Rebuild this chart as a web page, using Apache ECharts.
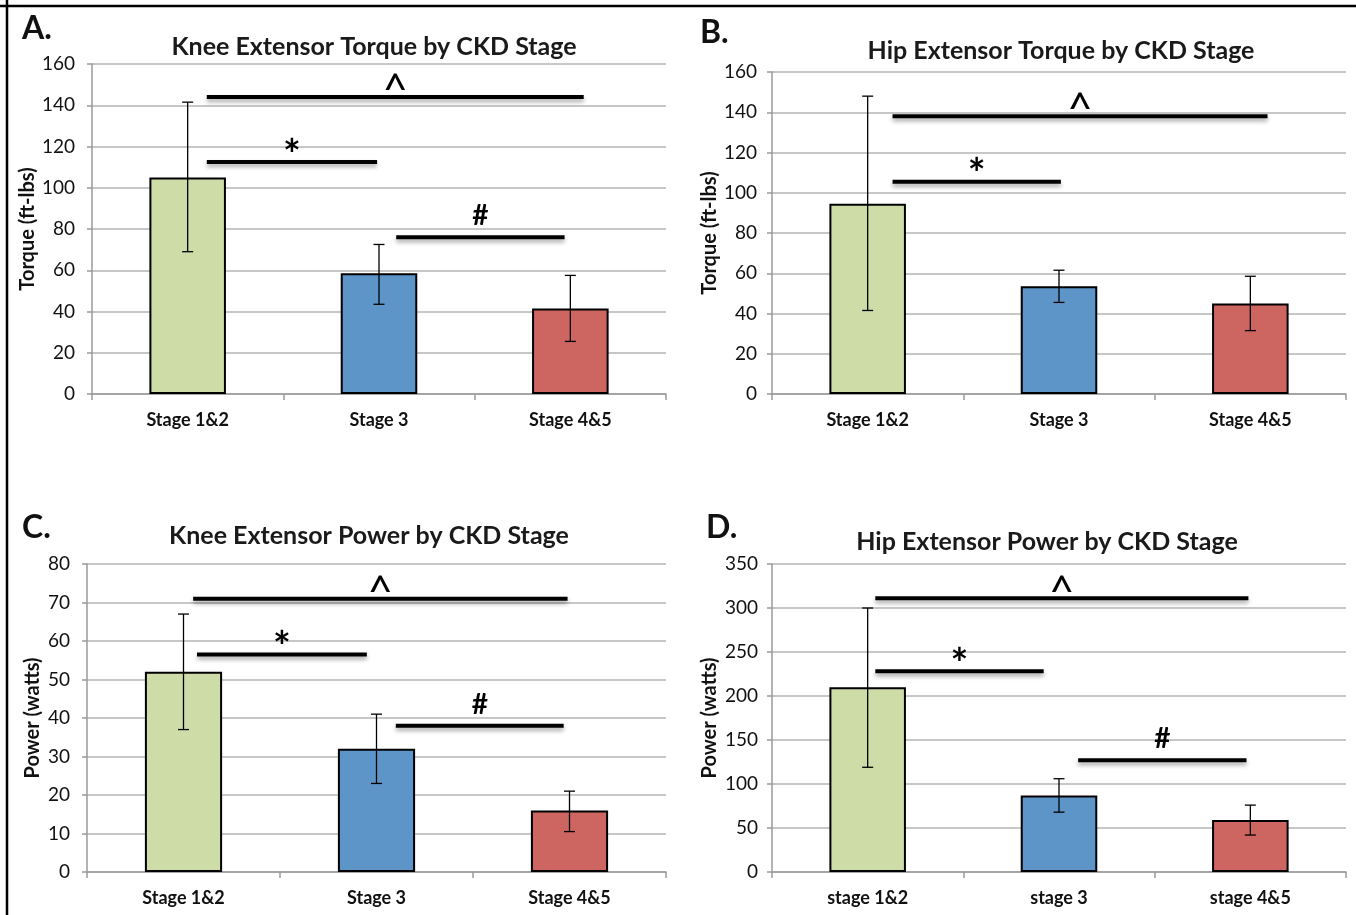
<!DOCTYPE html>
<html>
<head>
<meta charset="utf-8">
<script src="https://cdn.jsdelivr.net/npm/echarts@6/dist/echarts.min.js"></script>
<style>
  html, body { margin: 0; padding: 0; background: #fff; }
  #chart { width: 1356px; height: 915px; }
</style>
</head>
<body>
<div id="chart"></div>
<script>
// categories
const stages = ["Stage 1&2", "Stage 3", "Stage 4&5"];
const stagesLower = ["stage 1&2", "stage 3", "stage 4&5"];
const barColors = ["#cedca8", "#5e95c9", "#cd6561"];

// A. knee extensor torque (ft-lbs)
const kneeTorque = [105, 58.5, 41.5];
const kneeTorqueLow = [69, 43.5, 25.5];
const kneeTorqueHigh = [141.5, 72.5, 57.5];
// [from, to, y, symbol] in category units
const kneeTorqueSig = [[0.10, 2.07, 144, "^"], [0.10, 0.99, 112.5, "*"], [1.09, 1.97, 76, "#"]];

// B. hip extensor torque (ft-lbs)
const hipTorque = [94.5, 53.5, 45];
const hipTorqueLow = [41.5, 45.5, 31.5];
const hipTorqueHigh = [148, 61.5, 58.5];
const hipTorqueSig = [[0.13, 2.09, 138, "^"], [0.13, 1.01, 105.5, "*"]];

// C. knee extensor power (watts)
const kneePower = [52, 32, 16];
const kneePowerLow = [37, 23, 10.5];
const kneePowerHigh = [67, 41, 21];
const kneePowerSig = [[0.05, 1.99, 71, "^"], [0.07, 0.95, 56.5, "*"], [1.10, 1.97, 38, "#"]];

// D. hip extensor power (watts)
const hipPower = [210, 87, 59];
const hipPowerLow = [119, 68, 42];
const hipPowerHigh = [300, 106, 76];
const hipPowerSig = [[0.04, 1.99, 311, "^"], [0.04, 0.92, 228, "*"], [1.10, 1.98, 127, "#"]];

const FONT = 'Lato, "Open Sans", sans-serif';

const panels = [
  { letter: "A.", title: "Knee Extensor Torque by CKD Stage", yName: "Torque (ft-lbs)", cats: stages,
    vals: kneeTorque, low: kneeTorqueLow, high: kneeTorqueHigh, sig: kneeTorqueSig, max: 160, step: 20,
    grid: { left: 92, width: 574, top: 64, height: 330 }, nameGap: 54, labelGap: 17,
    titlePos: [369, 42], letterPos: [17, 24] },
  { letter: "B.", title: "Hip Extensor Torque by CKD Stage", yName: "Torque (ft-lbs)", cats: stages,
    vals: hipTorque, low: hipTorqueLow, high: hipTorqueHigh, sig: hipTorqueSig, max: 160, step: 20,
    grid: { left: 772, width: 574, top: 72, height: 322 }, nameGap: 52, labelGap: 15,
    titlePos: [1056, 46], letterPos: [695, 28] },
  { letter: "C.", title: "Knee Extensor Power by CKD Stage", yName: "Power (watts)", cats: stages,
    vals: kneePower, low: kneePowerLow, high: kneePowerHigh, sig: kneePowerSig, max: 80, step: 10,
    grid: { left: 87, width: 579, top: 564, height: 308 }, nameGap: 44, labelGap: 17,
    titlePos: [364, 531], letterPos: [17, 523] },
  { letter: "D.", title: "Hip Extensor Power by CKD Stage", yName: "Power (watts)", cats: stagesLower,
    vals: hipPower, low: hipPowerLow, high: hipPowerHigh, sig: hipPowerSig, max: 350, step: 50,
    grid: { left: 772, width: 574, top: 564, height: 308 }, nameGap: 52, labelGap: 14,
    titlePos: [1042, 537], letterPos: [701, 523] },
];

const chart = echarts.init(document.getElementById("chart"));

const grid = [], xAxis = [], yAxis = [], series = [], title = [];

panels.forEach((p, i) => {
  grid.push(p.grid);
  xAxis.push({
    gridIndex: i, type: "category", data: p.cats,
    axisLine: { lineStyle: { color: "#9a9a9a", width: 1.5 } },
    axisTick: { show: true, length: 6, lineStyle: { color: "#9a9a9a", width: 1.5 } },
    axisLabel: { color: "#111", fontFamily: FONT, fontWeight: "bold", fontSize: 18, margin: 17 },
  });
  // hidden value axis for the significance bars
  xAxis.push({ gridIndex: i, type: "value", min: -0.5, max: 2.5, show: false });
  yAxis.push({
    gridIndex: i, type: "value", min: 0, max: p.max, interval: p.step,
    name: p.yName, nameLocation: "middle", nameGap: p.nameGap, nameRotate: 90,
    nameTextStyle: { color: "#111", fontFamily: FONT, fontWeight: "bold", fontSize: 20 },
    axisLine: { show: true, onZero: false, lineStyle: { color: "#9a9a9a", width: 1.5 } },
    axisTick: { show: true, length: 5, lineStyle: { color: "#9a9a9a", width: 1.5 } },
    splitLine: { lineStyle: { color: "#b5b5b5", width: 1.5 } },
    axisLabel: { color: "#111", fontFamily: FONT, fontSize: 19, margin: p.labelGap },
  });

  series.push({
    type: "bar", xAxisIndex: 2 * i, yAxisIndex: i, barWidth: "40%",
    data: p.vals.map((v, k) => ({ value: v, itemStyle: { color: barColors[k] } })),
    itemStyle: { borderColor: "#000", borderWidth: 2 },
    z: 2,
  });

  series.push({
    type: "custom", xAxisIndex: 2 * i, yAxisIndex: i, z: 3,
    data: p.vals.map((v, k) => [k, p.low[k], p.high[k]]),
    encode: { x: 0, y: [1, 2] },
    renderItem: (params, api) => {
      const x = api.value(0);
      const lo = api.coord([x, api.value(1)]);
      const hi = api.coord([x, api.value(2)]);
      const cap = 5.5;
      const st = { stroke: "#000", lineWidth: 1.3 };
      return {
        type: "group",
        children: [
          { type: "line", shape: { x1: lo[0], y1: lo[1], x2: hi[0], y2: hi[1] }, style: st },
          { type: "line", shape: { x1: lo[0] - cap, y1: lo[1], x2: lo[0] + cap, y2: lo[1] }, style: st },
          { type: "line", shape: { x1: hi[0] - cap, y1: hi[1], x2: hi[0] + cap, y2: hi[1] }, style: st },
        ],
      };
    },
  });

  // significance bar styles per symbol: font size, weight, vertical offset from the line
  const symStyle = {
    "^": { size: 44, weight: "normal", dy: 17, va: "bottom" },
    "*": { size: 42, weight: "bold", dy: -27, va: "top" },
    "#": { size: 28, weight: "bold", dy: -7, va: "bottom" },
  };

  series.push({
    type: "custom", xAxisIndex: 2 * i + 1, yAxisIndex: i, z: 4,
    data: p.sig.map((s) => [s[0], s[1], s[2]]),
    encode: { x: [0, 1], y: 2 },
    renderItem: (params, api) => {
      const a = api.coord([api.value(0), api.value(2)]);
      const b = api.coord([api.value(1), api.value(2)]);
      const sym = p.sig[params.dataIndex][3];
      const s = symStyle[sym];
      return {
        type: "group",
        children: [
          {
            type: "line", shape: { x1: a[0], y1: a[1], x2: b[0], y2: b[1] },
            style: { stroke: "#000", lineWidth: 4, shadowBlur: 4, shadowOffsetY: 3, shadowColor: "rgba(0,0,0,0.35)" },
          },
          {
            type: "text", x: (a[0] + b[0]) / 2, y: a[1] + s.dy,
            style: {
              text: sym, fill: "#000", align: "center", verticalAlign: s.va,
              fontFamily: FONT, fontSize: s.size, fontWeight: s.weight,
            },
          },
        ],
      };
    },
  });

  title.push({
    text: p.title, left: p.titlePos[0], top: p.titlePos[1], textAlign: "center", textVerticalAlign: "middle",
    textStyle: { color: "#1a1a1a", fontFamily: FONT, fontWeight: "bold", fontSize: 25 },
  });
  title.push({
    text: p.letter, left: p.letterPos[0], top: p.letterPos[1] - 16,
    textStyle: { color: "#111", fontFamily: FONT, fontWeight: "bold", fontSize: 32 },
  });
});

chart.setOption({
  animation: false,
  title,
  grid,
  xAxis,
  yAxis,
  series,
  graphic: [
    { type: "line", shape: { x1: 0, y1: 6, x2: 1356, y2: 6 }, style: { stroke: "#000", lineWidth: 2.5 } },
    { type: "line", shape: { x1: 7, y1: 0, x2: 7, y2: 915 }, style: { stroke: "#000", lineWidth: 2.5 } },
  ],
});

window.addEventListener("resize", () => chart.resize());
</script>
</body>
</html>
